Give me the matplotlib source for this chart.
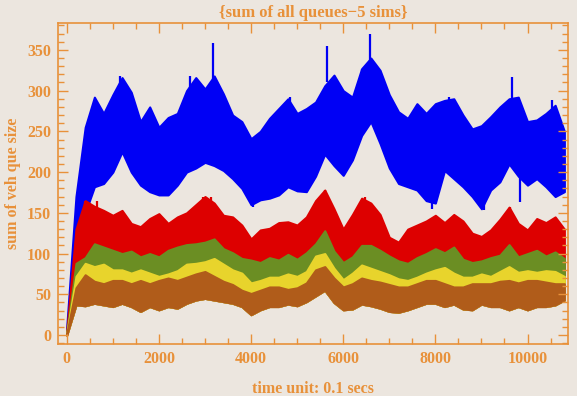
import matplotlib
matplotlib.use("Agg")
import matplotlib.pyplot as plt
import numpy as np
from matplotlib.ticker import MultipleLocator

## Data (envelopes of the 5 noisy series, every 200 time units)
time = list(range(0, 10801, 200))

blue_hi = [10, 170, 255, 292, 272, 295, 316, 298, 262, 280, 255, 267, 272, 300, 316, 302,
           318, 296, 270, 262, 241, 250, 266, 278, 290, 272, 278, 286, 306, 319, 300, 292,
           327, 340, 325, 295, 274, 266, 284, 272, 284, 288, 290, 270, 253, 257, 268, 280,
           290, 292, 262, 264, 272, 282, 250]
blue_lo = [0, 60, 150, 182, 186, 200, 225, 200, 184, 176, 172, 172, 184, 200, 205, 212,
           208, 202, 192, 180, 160, 166, 168, 172, 182, 177, 176, 195, 222, 208, 196, 215,
           245, 262, 235, 205, 186, 182, 178, 165, 162, 202, 192, 182, 170, 155, 178, 188,
           210, 195, 184, 192, 182, 170, 176]
red_hi = [5, 130, 165, 158, 153, 147, 153, 137, 133, 143, 149, 137, 145, 150, 160, 170,
          162, 147, 145, 135, 118, 129, 131, 138, 139, 135, 145, 165, 178, 155, 130, 148,
          168, 162, 148, 120, 114, 130, 135, 140, 147, 138, 148, 140, 125, 121, 129, 142,
          157, 137, 129, 143, 138, 145, 130]
green_hi = [3, 88, 95, 112, 108, 104, 100, 103, 96, 100, 96, 104, 108, 111, 112, 114,
            118, 106, 101, 94, 92, 89, 95, 92, 99, 93, 101, 112, 128, 103, 89, 96,
            110, 110, 104, 97, 91, 88, 95, 100, 106, 101, 108, 93, 89, 91, 95, 98,
            111, 96, 100, 104, 97, 102, 94]
yellow_hi = [2, 72, 88, 84, 87, 80, 80, 76, 80, 76, 72, 75, 79, 87, 88, 90,
             94, 87, 80, 76, 64, 67, 71, 71, 75, 72, 78, 97, 100, 82, 68, 76,
             86, 82, 78, 74, 69, 67, 71, 76, 80, 83, 76, 71, 71, 75, 72, 78,
             84, 77, 79, 77, 79, 78, 72]
brown_hi = [2, 58, 74, 66, 63, 67, 67, 63, 67, 63, 67, 70, 67, 71, 75, 78,
            72, 66, 62, 55, 51, 55, 59, 59, 56, 58, 64, 80, 84, 70, 59, 63,
            70, 67, 65, 62, 59, 59, 63, 67, 67, 63, 59, 59, 63, 63, 63, 66,
            67, 64, 67, 67, 65, 63, 63]
brown_lo = [0, 37, 36, 39, 37, 35, 39, 35, 29, 35, 31, 35, 33, 39, 43, 45,
            43, 41, 39, 35, 25, 31, 35, 35, 38, 36, 41, 48, 55, 40, 31, 32,
            38, 36, 33, 29, 28, 31, 35, 39, 39, 35, 38, 32, 31, 38, 35, 35,
            31, 35, 31, 35, 35, 37, 43]

## Single spikes that stick out of the envelopes
blue_up_t = [1150, 2680, 3180, 4840, 5640, 6400, 6580, 8290, 9660, 10530]
blue_up_v = [318, 318, 359, 292, 355, 327, 370, 292, 317, 288]
blue_dn_t = [1910, 3870, 4040, 7920, 9050, 9844]
blue_dn_v = [174, 176, 157, 155, 153, 163]
red_up_t = [400, 650, 2960, 3140, 5600, 6475, 9627]
red_up_v = [165, 165, 170, 170, 178, 170, 157]

bg = "#ECE6DF"
orange = "#E8913A"
blue = "#0000F5"
red = "#DD0000"

fig = plt.figure(figsize=(5.77, 3.96), dpi=100, facecolor=bg)
ax = fig.add_axes([0.1005, 0.1313, 0.884, 0.8106], facecolor=bg)

t = np.array(time)
ax.fill_between(t, blue_lo, blue_hi, color=blue, lw=1.5, edgecolor=blue)
ax.vlines(blue_up_t, np.array(blue_up_v) - 45, blue_up_v, color=blue, lw=1.6)
ax.vlines(blue_dn_t, blue_dn_v, np.array(blue_dn_v) + 45, color=blue, lw=1.6)
## bands below are stacked: each one is covered by the next one
bands = [(red_hi, red), (green_hi, "#6B8E23"),
         (yellow_hi, "#E8D42C"), (brown_hi, "#B05C1A")]
for hi, col in bands:
    ax.fill_between(t, brown_lo, hi, color=col, lw=1.5, edgecolor=col)
    if col == red:
        ax.vlines(red_up_t, np.array(red_up_v) - 30, red_up_v, color=red, lw=1.6)

ax.set_xlim(-190, 10880)
ax.set_ylim(-11, 383)

font = {"family": "Liberation Serif", "weight": "bold", "color": orange}
ax.set_title("{sum of all queues\u22125 sims}", fontdict=dict(font, size=12), pad=4)
ax.set_xlabel("time unit: 0.1 secs", fontdict=dict(font, size=11.5), labelpad=10)
ax.set_ylabel("sum of veh que size", fontdict=dict(font, size=11.5), labelpad=4)

ax.xaxis.set_major_locator(MultipleLocator(2000))
ax.xaxis.set_minor_locator(MultipleLocator(500))
ax.yaxis.set_major_locator(MultipleLocator(50))
ax.yaxis.set_minor_locator(MultipleLocator(10))
ax.tick_params(which="both", direction="in", top=True, right=True, color=orange,
               labelcolor=orange, width=1)
ax.tick_params(which="major", length=7, labelsize=11.5, pad=5)
ax.tick_params(which="minor", length=4)
for lab in ax.get_xticklabels() + ax.get_yticklabels():
    lab.set_family("Liberation Serif")
    lab.set_weight("bold")
for s in ax.spines.values():
    s.set_color(orange)
    s.set_linewidth(1.2)

fig.savefig("out.png", dpi=100, facecolor=bg)
